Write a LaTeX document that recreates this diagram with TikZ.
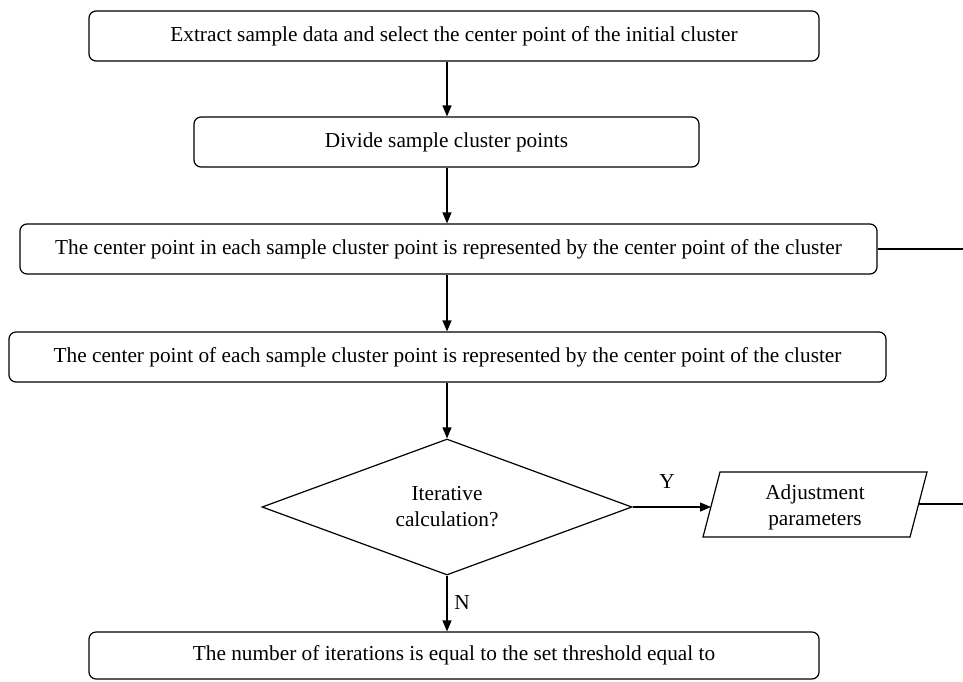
\documentclass[tikz,border=0pt]{standalone}
\usepackage{fontspec}
\setmainfont{Liberation Serif}
\usetikzlibrary{arrows.meta,shapes.geometric}
\begin{document}
\begin{tikzpicture}[x=1pt,y=-1pt,
  line width=1.2pt,
  every node/.style={font=\fontsize{21.3}{26}\selectfont},
  procbox/.style={draw,rounded corners=7pt,inner sep=0pt,align=center},
  flow/.style={-{Triangle[length=11pt,width=9pt]}},
  lbl/.style={inner sep=0pt}]
\useasboundingbox (0,0) rectangle (963,681);
\node[procbox,minimum width=730pt,minimum height=50pt] (b1) at (454,36)
  {Extract sample data and select the center point of the initial cluster};
\node[procbox,minimum width=505pt,minimum height=50pt] (b2) at (446.5,142)
  {Divide sample cluster points};
\node[procbox,minimum width=857pt,minimum height=50pt] (b3) at (448.5,249)
  {The center point in each sample cluster point is represented by the center point of the cluster};
\node[procbox,minimum width=877pt,minimum height=50pt] (b4) at (447.5,357)
  {The center point of each sample cluster point is represented by the center point of the cluster};
\node[draw,diamond,aspect=2.7,inner sep=0pt,minimum width=370pt,minimum height=136pt,align=center] (dia) at (447,507)
  {Iterative\\calculation?};
\coordinate (pTL) at (720,472);
\coordinate (pTR) at (927,472);
\coordinate (pBR) at (910,537);
\coordinate (pBL) at (703,537);
\draw (pTL) -- (pTR) -- (pBR) -- (pBL) -- cycle;
\node[align=center,inner sep=0pt] (para) at (815,507) {Adjustment\\parameters};
\coordinate (paraIn) at (711,507);
\coordinate (paraOut) at (918.6,504);
\node[procbox,minimum width=730pt,minimum height=47pt] (b5) at (454,655.5)
  {The number of iterations is equal to the set threshold equal to};
\coordinate (edgeA) at (963,249);
\coordinate (edgeB) at (963,504);
% connectors
\draw[flow] (b1.south -| dia.north) -- (b2.north -| dia.north);
\draw[flow] (b2.south -| dia.north) -- (b3.north -| dia.north);
\draw[flow] (b3.south -| dia.north) -- (b4.north -| dia.north);
\draw[flow] (b4.south -| dia.north) -- (dia.north);
\draw[flow] (dia.east) -- (paraIn);
\draw[flow] (dia.south) -- (b5.north -| dia.south);
\draw (b3.east) -- (edgeA);
\draw (paraOut) -- (edgeB);
\node[lbl] (ylab) at (667,482) {Y};
\node[lbl] (nlab) at (462,603) {N};
\end{tikzpicture}
\end{document}
